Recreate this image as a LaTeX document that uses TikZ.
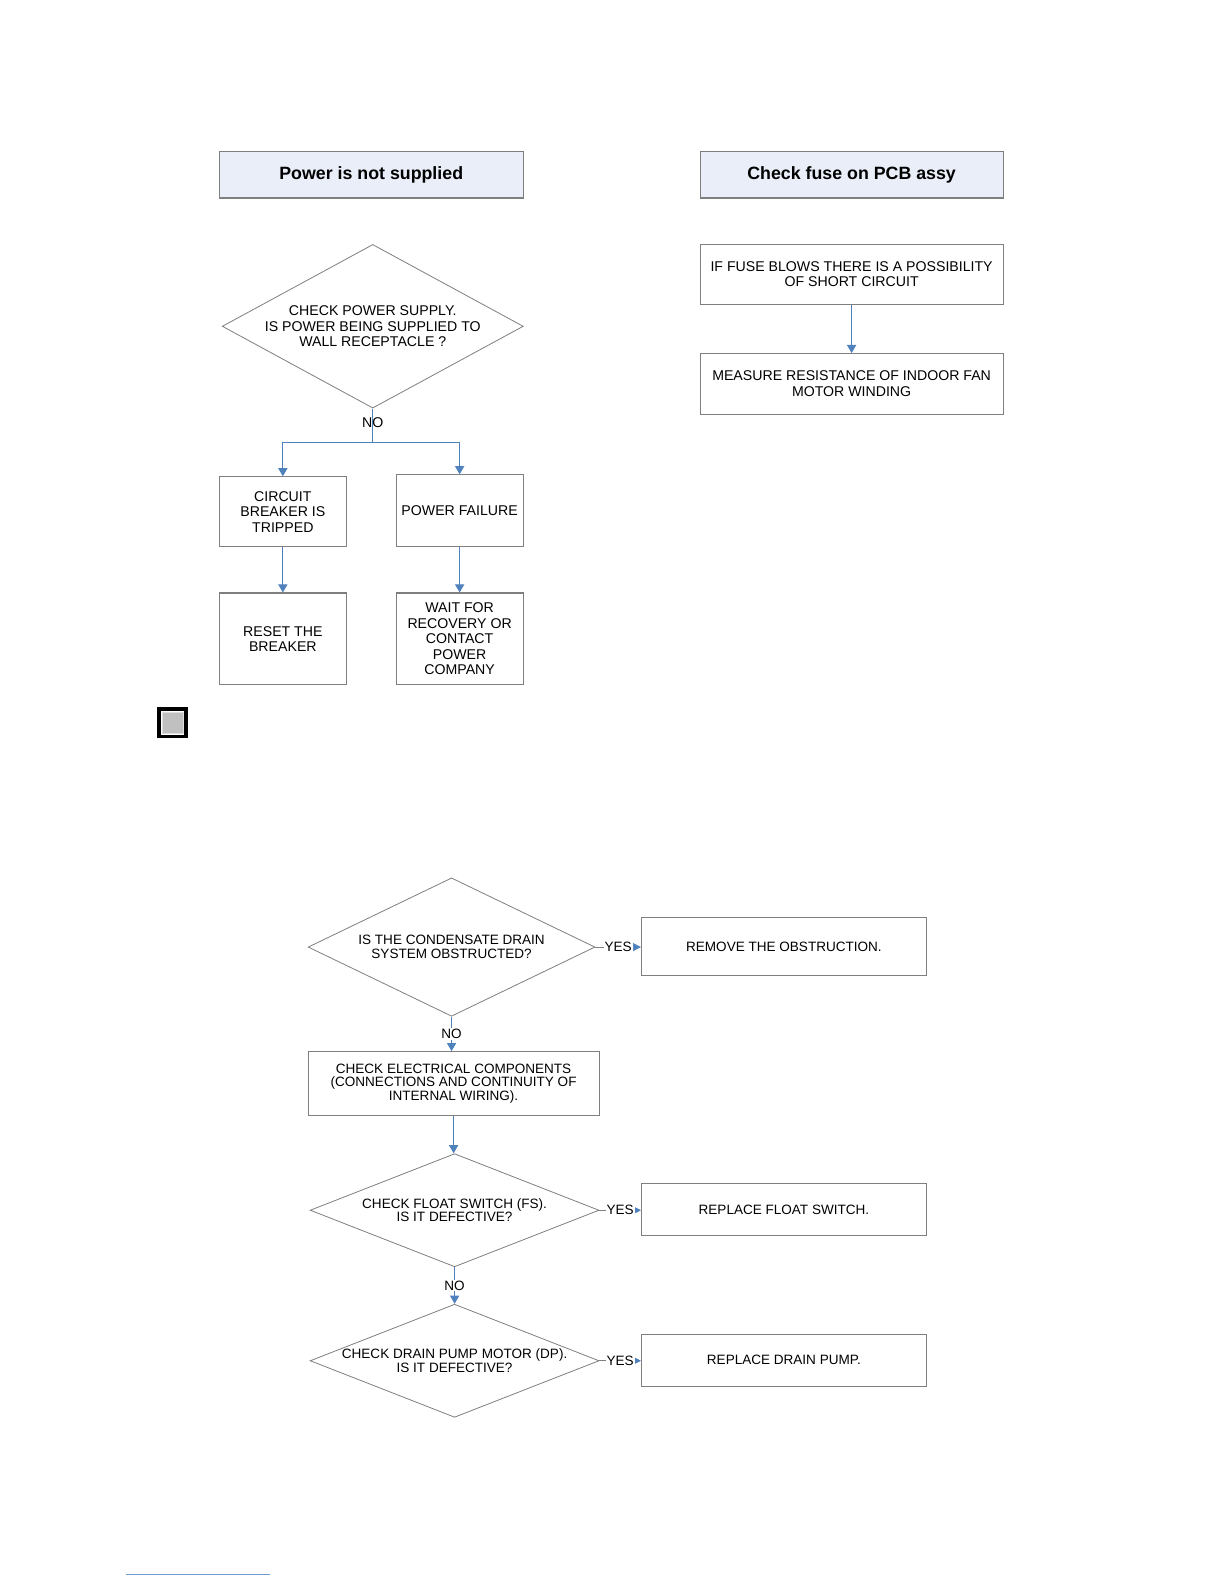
\documentclass[tikz,border=0pt]{standalone}
\usepackage{fontspec}
\setmainfont{Liberation Sans}
\usetikzlibrary{shapes.geometric,arrows.meta}
\definecolor{titlefill}{HTML}{E9EEF8}
\definecolor{lineblue}{HTML}{4F81BD}
\definecolor{edgegray}{HTML}{7F7F7F}
\definecolor{iconfill}{HTML}{C0C0C0}

\begin{document}
\begin{tikzpicture}[x=0.5pt,y=-0.5pt,
  every node/.style={font=\fontsize{7}{7.7}\selectfont, align=center, inner sep=1pt},
  title/.style={draw=edgegray, line width=0.5pt, fill=titlefill, minimum width=150.5pt, minimum height=23pt, font=\bfseries\fontsize{8.8}{10}\selectfont},
  box/.style={draw=edgegray, line width=0.5pt, minimum width=63pt},
  wide box/.style={draw=edgegray, line width=0.5pt, minimum width=150pt, minimum height=30pt},
  small/.style={font=\fontsize{6.7}{6.8}\selectfont},
  answer/.style={draw=edgegray, line width=0.5pt, small, minimum width=141pt},
  decision/.style={diamond, draw=edgegray, line width=0.4pt, inner sep=0pt},
  flow/.style={draw=lineblue, line width=0.5pt, -{Triangle[length=4pt,width=4.5pt]}},
  yes flow/.style={draw=edgegray, line width=0.4pt, -{Triangle[length=4pt,width=4pt,color=lineblue]}},
  tag/.style={small, fill=white, inner sep=0.5pt}]
\useasboundingbox (0,0) rectangle (1212,1568);

% power is not supplied
\node[title] (pwr) at (367.5,173) {Power is not supplied};
\node[decision, minimum width=149pt, minimum height=81pt,
  label={center:CHECK POWER SUPPLY.\\IS POWER BEING SUPPLIED TO\\WALL RECEPTACLE ?}] (chkpwr) at (369,323) {};
\coordinate (split) at (369,438);
\node[box, minimum height=34.5pt] (breaker) at (280,506.5) {CIRCUIT\\BREAKER IS\\TRIPPED};
\node[box, minimum height=35.5pt] (fail) at (455,505.5) {POWER FAILURE};
\node[box, minimum height=45.5pt] (reset) at (280,632.5) {RESET THE\\BREAKER};
\node[box, minimum height=45.5pt] (wait) at (455,632.5) {WAIT FOR\\RECOVERY OR\\CONTACT\\POWER\\COMPANY};
\draw[lineblue, line width=0.5pt] (chkpwr.south) -- (split);
\node (no1) at (369,418) {NO};
\draw[flow] (split) -| (breaker.north);
\draw[flow] (split) -| (fail.north);
\draw[flow] (breaker) -- (reset);
\draw[flow] (fail) -- (wait);

% check fuse
\node[title, minimum width=150pt] (fuse) at (843,173) {Check fuse on PCB assy};
\node[wide box, minimum height=29.5pt] (blow) at (843,271.5) {IF FUSE BLOWS THERE IS A POSSIBILITY\\OF SHORT CIRCUIT};
\node[wide box] (motor) at (843,380) {MEASURE RESISTANCE OF INDOOR FAN\\MOTOR WINDING};
\draw[flow] (blow) -- (motor);

% icon
\node[draw=black, line width=1.8pt, minimum size=13.4pt, inner sep=0pt] (icon) at (171,715.5) {};
\node[draw=gray!25, fill=iconfill, line width=0.6pt, minimum size=10.4pt, inner sep=0pt] (iconin) at (icon) {};

% drain
\node[decision, minimum width=142pt, minimum height=68.5pt,
  label={[small]center:IS THE CONDENSATE DRAIN\\SYSTEM OBSTRUCTED?}] (drain) at (447,937.5) {};
\node[answer, minimum height=29pt] (remove) at (776,937) {REMOVE THE OBSTRUCTION.};
\node[draw=edgegray, line width=0.5pt, small, minimum width=144pt, minimum height=31.5pt] (elec) at (449,1072.5) {CHECK ELECTRICAL COMPONENTS\\(CONNECTIONS AND CONTINUITY OF\\INTERNAL WIRING).};
\node[decision, minimum width=143pt, minimum height=56pt,
  label={[small]center:CHECK FLOAT SWITCH (FS).\\IS IT DEFECTIVE?}] (float) at (450,1198) {};
\node[answer, minimum height=25.5pt] (fswitch) at (776,1197.5) {REPLACE FLOAT SWITCH.};
\node[decision, minimum width=143pt, minimum height=56pt,
  label={[small]center:CHECK DRAIN PUMP MOTOR (DP).\\IS IT DEFECTIVE?}] (pump) at (450,1347) {};
\node[answer, minimum height=25.5pt] (rpump) at (776,1346.5) {REPLACE DRAIN PUMP.};

\draw[yes flow] (drain.east) -- node[tag] {YES} (drain.east -| remove.west);
\draw[flow] (drain.south) -- node[tag] {NO} (drain.south |- elec.north);
\draw[flow] (elec.south) -- (elec.south |- float.north);
\draw[yes flow] (float.east) -- node[tag] {YES} (float.east -| fswitch.west);
\draw[flow] (float.south) -- node[tag] {NO} (pump.north);
\draw[yes flow] (pump.east) -- node[tag] {YES} (pump.east -| rpump.west);

\draw[lineblue!80, line width=0.4pt] (125,1558) -- (267,1558);
\end{tikzpicture}
\end{document}
